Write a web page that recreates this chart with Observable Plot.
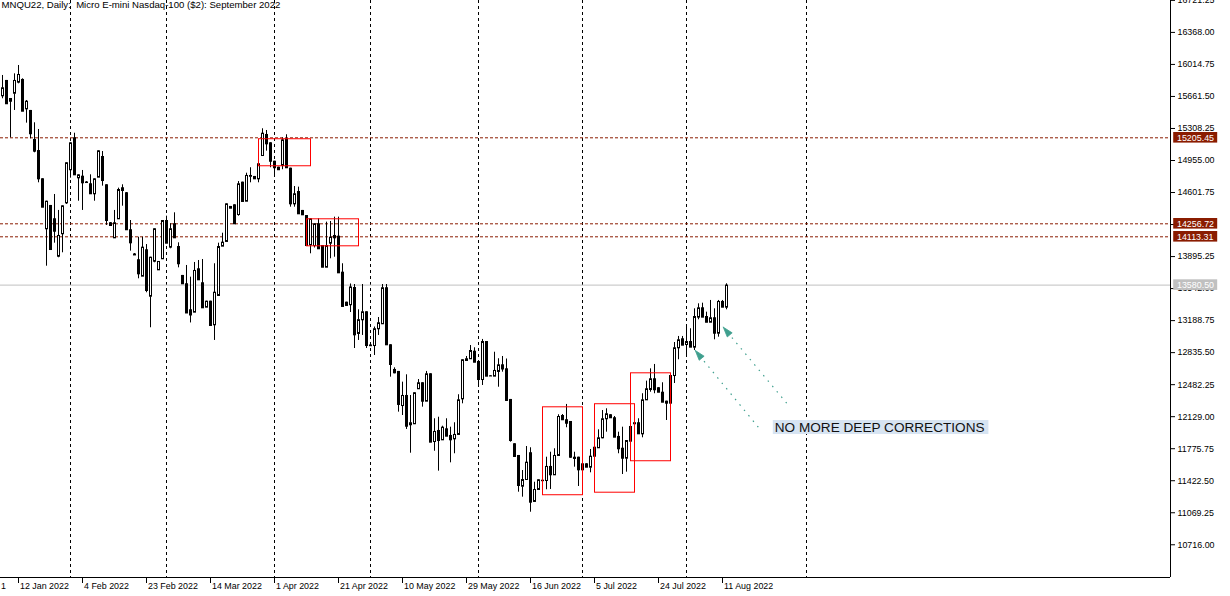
<!DOCTYPE html>
<html><head><meta charset="utf-8">
<script src="https://cdn.jsdelivr.net/npm/d3@7"></script>
<script src="https://cdn.jsdelivr.net/npm/@observablehq/plot@0.6"></script>
<style>html,body{margin:0;padding:0;background:#fff;} #chart{width:1230px;height:596px;overflow:hidden;}</style>
</head><body><div id="chart"></div>
<script>
// ---- Daily OHLC, bar index 0..181 (Jan–Aug 2022) ----
const open = [15669,15838,15639,15697,15819,15849,15525,15507,15187,15065,
14753,14202,14459,14312,13899,14147,14488,14853,15205,14764,
14782,14718,14698,14588,14771,14999,14687,14268,14102,14312,
14654,14599,14191,13924,13860,13679,13970,13458,13844,13749,
13871,14293,13999,14257,14006,13687,13595,13308,13282,13760,
13606,13337,13403,13143,13466,14010,14062,14448,14466,14359,
14716,14506,14781,14779,14753,15010,15242,15150,14947,14881,
14900,15194,14870,14477,14613,14404,14348,14025,14017,14257,
14017,13778,14043,14128,14120,13723,13392,13364,13554,13047,
13198,13286,12920,12914,13099,13154,13551,12922,12650,12628,
12252,12363,12040,12051,12437,12503,12300,12602,11855,11977,
11874,11995,11922,11885,11933,12326,12749,12768,12851,12738,
12539,12958,12580,12576,12628,12701,12657,12319,11830,11701,
11362,11436,11731,11194,11326,11428,11425,11580,11488,11701,
12142,12095,12076,11682,11682,11609,11609,11572,11792,11786,
11896,12106,12150,12117,11911,11781,11671,12021,12062,12062,
11940,12315,12429,12547,12448,12399,12300,12278,12583,12889,
12988,12925,12958,12896,13227,13330,13234,13171,13220,13050,
13400,13337];
const high = [15893,15838,15639,15911,16003,15856,15617,15507,15371,15297,
14753,14506,14459,14580,14404,14455,14930,15150,15256,14797,
14845,14723,14797,14753,15062,15054,14687,14271,14404,14650,
14687,14602,14293,13929,14109,14109,14028,13888,14202,13841,
14293,14341,14257,14378,14047,13687,13797,13668,13830,13852,
13863,13403,13403,13816,14043,14153,14477,14448,14466,14723,
14716,14815,14875,14779,15040,15305,15286,15150,14947,14881,
15205,15239,14870,14668,14661,14404,14348,14312,14257,14312,
14017,14275,14282,14330,14330,13816,13392,13593,13587,13308,
13587,13286,12920,13118,13223,13587,13587,12922,12668,12628,
12510,12591,12363,12393,12539,12503,12628,12602,12106,12123,
12024,12106,12013,12062,12371,12757,12793,12914,12889,12738,
12981,12958,12583,12840,12768,12793,12765,12319,11830,11701,
11535,11800,11786,11406,11433,11429,11682,11737,11775,12150,
12153,12264,12076,11737,11682,11609,11609,11767,11822,11984,
12197,12216,12150,12131,11958,12013,11866,12021,12062,12106,
12382,12521,12657,12705,12448,12503,12300,12583,12947,13014,
13014,13135,13099,13319,13374,13381,13282,13411,13319,13411,
13411,13595];
const low = [15636,15573,15205,15507,15801,15499,15367,15194,15040,14709,
14440,13789,13973,14043,13882,13937,14470,14760,14797,14506,
14404,14707,14588,14506,14771,14672,14238,14233,14102,14312,
14451,14191,13955,13907,13650,13679,13496,13110,13827,13749,
13871,14043,13981,14102,13771,13595,13273,13163,13282,13639,
13330,13337,13135,12970,13466,14010,14062,14429,14257,14341,
14503,14506,14709,14753,14709,15010,15058,14875,14782,14853,
14853,14875,14440,14440,14367,14356,14017,13926,13990,13981,
13778,13778,13871,13888,13716,13345,13356,13278,12881,12970,
13025,12881,12912,12804,13025,13154,12922,12565,12602,12179,
12142,11988,11726,12051,12437,12234,12300,11848,11748,11528,
11866,11914,11620,11720,11933,12271,12749,12760,12730,12454,
12473,12576,12576,12576,12454,12620,12300,11848,11682,11296,
11241,11436,11075,11186,11326,11422,11323,11326,11488,11701,
12095,12007,11671,11572,11359,11543,11572,11510,11693,11786,
11885,11958,12117,11903,11720,11491,11517,11859,12051,11940,
11896,12315,12399,12382,12399,12289,12087,12278,12495,12757,
12918,12804,12896,12859,13198,13227,13171,13171,12977,13006,
13337,13308];
const close = [15757,15581,15609,15838,15904,15499,15609,15250,15058,14753,
14440,14506,13973,14175,14128,14455,14930,15150,14797,14797,
14709,14712,14588,14753,15062,14734,14293,14238,14268,14635,
14624,14191,14047,13913,13705,13999,13521,13888,14202,13841,
14293,14043,14202,14102,13816,13595,13273,13251,13742,13639,
13330,13403,13135,13502,14006,14054,14477,14429,14257,14698,
14503,14790,14790,14753,14919,15256,15139,14947,14875,14853,
15183,14875,14477,14588,14367,14356,14017,14312,14257,13981,
13778,14017,14109,14102,13716,13345,13356,13560,13032,13199,
13286,12914,12912,13099,13165,13551,12922,12705,12613,12264,
12363,12024,12062,12393,12503,12300,12602,11848,11966,11866,
12013,11914,11874,11933,12315,12757,12768,12859,12730,12539,
12958,12576,12578,12639,12701,12655,12308,11866,11690,11370,
11436,11627,11186,11326,11433,11423,11580,11488,11701,12131,
12095,12057,11682,11668,11543,11543,11572,11693,11693,11896,
12106,12161,12117,11903,11775,11671,11866,11859,12051,11940,
12315,12437,12547,12426,12399,12289,12278,12583,12889,12977,
12918,12958,12896,13234,13330,13227,13171,13220,13050,13400,
13337,13580.5];

// ---- axes / annotations ----
const xTickIdx = [4,20,36,52,68,84,100,116,132,148,164,180];
const xTickLabels = ["12 Jan 2022","4 Feb 2022","23 Feb 2022","14 Mar 2022","1 Apr 2022","21 Apr 2022","10 May 2022","29 May 2022","16 Jun 2022","5 Jul 2022","24 Jul 2022","11 Aug 2022"];
const monthStartIdx = [17,41,68,92,119,145,171,201];
const yTickStart = 10716, yTickStep = 353.25, yTickCount = 18;
const levelValues = [15205.45, 14256.72, 14113.31, 13580.50];
const levelKinds  = ["line","line","line","last"];
const boxX1 = [64,76,135,148,157];
const boxX2 = [77,89,145,158,167];
const boxTop = [15195,14312,12238,12272,12613];
const boxBottom = [14897,14014,11268,11296,11643];
const arrowFromX = [188.95,196.05], arrowFromY = [12013,12278];
const arrowToX = [173.2,180.2], arrowToY = [12859,13116];
const noteText = "NO MORE DEEP CORRECTIONS";
const noteX1 = 192.7, noteX2 = 246.6, noteTop = 12087, noteBottom = 11932;
const titleText = "MNQU22, Daily:  Micro E-mini Nasdaq-100 ($2): September 2022";

// ---- layout ----
const W = 1230, H = 596, mR = 60, mB = 19;
const xMin = -0.5, xMax = 292, yMin = 10355, yMax = 16720;
const pxX = (W - mR) / (xMax - xMin);          // px per bar
const ppy = (yMax - yMin) / (H - mB);           // price per px
const darkRed = "#8a1c00", teal = "#3f9f8e";

const candles = open.map((o, i) => ({i, open: o, high: high[i], low: low[i], close: close[i]}));
const bulls = candles.filter(d => d.close >= d.open);
const bears = candles.filter(d => d.close < d.open);
const yTicks = d3.range(yTickCount).map(k => yTickStart + k * yTickStep);
const levels = levelValues.map((v, i) => ({v, kind: levelKinds[i]}));
const boxes = boxX1.map((x, i) => ({x1: x, x2: boxX2[i], y1: boxTop[i], y2: boxBottom[i]}));
const arrows = arrowFromX.map((x, i) => ({x1: x, y1: arrowFromY[i], x2: arrowToX[i], y2: arrowToY[i]}));
// arrow heads as filled triangles (built in pixel space, mapped back to data units)
const heads = [];
arrows.forEach((a, k) => {
  const dxp = (a.x2 - a.x1) * pxX, dyp = -(a.y2 - a.y1) / ppy;
  const len = Math.hypot(dxp, dyp), ux = dxp / len, uy = dyp / len;
  const L = 10, w = 3.2;
  const bx = -ux * L, by = -uy * L;
  const pts = [[0, 0], [bx - uy * w, by + ux * w], [bx + uy * w, by - ux * w], [0, 0]];
  pts.forEach(([px, py]) => heads.push({k, x: a.x2 + px / pxX, y: a.y2 - py * ppy}));
});
const shafts = arrows.map(a => {
  const dxp = (a.x2 - a.x1) * pxX, dyp = -(a.y2 - a.y1) / ppy;
  const len = Math.hypot(dxp, dyp), f = (len - 8) / len;
  return {x1: a.x1, y1: a.y1, x2: a.x1 + (a.x2 - a.x1) * f, y2: a.y1 + (a.y2 - a.y1) * f};
});

const body = {x1: d => d.i - 0.25, x2: d => d.i + 0.25, y1: "open", y2: "close", stroke: "black", dx: 0.5, dy: 0.5};

const chart = Plot.plot({
  width: W, height: H,
  marginLeft: 0, marginRight: mR, marginTop: 0, marginBottom: mB,
  style: {background: "white", fontFamily: "'Liberation Sans', Arial, sans-serif", fontSize: "8.9px", color: "black"},
  x: {domain: [xMin, xMax], axis: null},
  y: {domain: [yMin, yMax], axis: "right", ticks: yTicks, tickFormat: d => d.toFixed(2), tickSize: 4, tickPadding: 3, label: null},
  marks: [
    Plot.ruleX(monthStartIdx, {stroke: "black", strokeDasharray: "3,3"}),
    Plot.ruleY(levels.filter(d => d.kind === "line"), {y: "v", stroke: darkRed, strokeDasharray: "3,2"}),
    Plot.ruleY(levels.filter(d => d.kind === "last"), {y: "v", stroke: "#c0c0c0"}),
    Plot.ruleX(candles, {x: "i", y1: "low", y2: "high", stroke: "black"}),
    Plot.rect(bulls, {...body, fill: "white"}),
    Plot.rect(bears, {...body, fill: "black"}),
    Plot.rect(boxes, {x1: "x1", x2: "x2", y1: "y1", y2: "y2", fill: "none", stroke: "#ff0000", dx: 0.5, dy: 0.5}),
    Plot.link(shafts, {x1: "x1", y1: "y1", x2: "x2", y2: "y2", stroke: teal, strokeDasharray: "1.5,5.5", strokeWidth: 1.2}),
    Plot.line(heads, {x: "x", y: "y", z: "k", fill: teal, stroke: teal, strokeWidth: 0.8}),
    Plot.rect([0], {x1: noteX1, x2: noteX2, y1: noteBottom, y2: noteTop, fill: "#d7e4f2"}),
    Plot.text([noteText], {x: noteX1, y: (noteTop + noteBottom) / 2, text: d => d, textAnchor: "start", dx: 1.5, fontSize: 13.6, fill: "#111"}),
    // frame lines
    Plot.ruleX([xMax], {stroke: "black"}),
    Plot.ruleY([yMin], {stroke: "black"}),
    // bottom axis
    Plot.ruleX(xTickIdx, {x: d => d, y1: yMin, y2: yMin - 6 * ppy, stroke: "black"}),
    Plot.text(xTickIdx, {x: d => d, y: yMin, text: (d, i) => xTickLabels[i], textAnchor: "start", dx: 1.5, dy: 8.5}),
    Plot.text(["1"], {x: xMin, y: yMin, text: d => d, textAnchor: "start", dx: 0.5, dy: 8.5}),
    // price labels on the right
    Plot.rect(levels, {x1: xMax + 3.2 / pxX, x2: xMax + 47.2 / pxX, y1: d => d.v - 5.3 * ppy, y2: d => d.v + 5.3 * ppy,
      fill: d => d.kind === "last" ? "#c0c0c0" : darkRed}),
    Plot.text(levels, {x: xMax, y: "v", text: d => d.v.toFixed(2), textAnchor: "start", dx: 6.5, fill: "white"}),
    // title
    Plot.text([titleText], {frameAnchor: "top-left", text: d => d, textAnchor: "start", lineAnchor: "top", dx: 1, dy: 1, fontSize: 9.6})
  ]
});
document.getElementById("chart").appendChild(chart);
</script></body></html>
